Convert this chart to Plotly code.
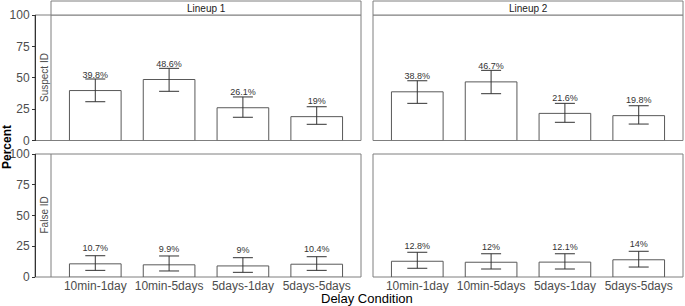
import plotly.graph_objects as go

categories = ["10min-1day", "10min-5days", "5days-1day", "5days-5days"]

# Suspect ID (top row)
lineup1_suspect = [39.8, 48.6, 26.1, 19.0]
lineup1_suspect_hi = [49.0, 57.5, 34.7, 26.9]
lineup1_suspect_lo = [30.9, 39.2, 18.5, 12.9]
lineup2_suspect = [38.8, 46.7, 21.6, 19.8]
lineup2_suspect_hi = [47.6, 55.9, 29.6, 27.7]
lineup2_suspect_lo = [29.6, 37.3, 14.5, 13.1]

# False ID (bottom row)
lineup1_false = [10.7, 9.9, 9.0, 10.4]
lineup1_false_hi = [17.3, 17.1, 15.7, 16.5]
lineup1_false_lo = [5.4, 4.9, 3.8, 5.4]
lineup2_false = [12.8, 12.0, 12.1, 14.0]
lineup2_false_hi = [20.1, 18.9, 18.9, 20.9]
lineup2_false_lo = [7.1, 6.5, 6.5, 8.1]

labels_l1_s = ["39.8%", "48.6%", "26.1%", "19%"]
labels_l2_s = ["38.8%", "46.7%", "21.6%", "19.8%"]
labels_l1_f = ["10.7%", "9.9%", "9%", "10.4%"]
labels_l2_f = ["12.8%", "12%", "12.1%", "14%"]

yticks = [0, 25, 50, 75, 100]

W, H = 685, 306
FONT = "Liberation Sans, Arial, sans-serif"
BORDER = "#7f7f7f"


def px(x):
    return x / W


def py(y):
    return 1 - y / H


fig = go.Figure()

panels = [
    ("x", "y", lineup1_suspect, lineup1_suspect_hi, lineup1_suspect_lo, labels_l1_s),
    ("x2", "y", lineup2_suspect, lineup2_suspect_hi, lineup2_suspect_lo, labels_l2_s),
    ("x", "y2", lineup1_false, lineup1_false_hi, lineup1_false_lo, labels_l1_f),
    ("x2", "y2", lineup2_false, lineup2_false_hi, lineup2_false_lo, labels_l2_f),
]

for xa, ya, vals, hi, lo, labs in panels:
    fig.add_trace(go.Bar(
        x=categories, y=vals, xaxis=xa, yaxis=ya, width=0.7,
        marker=dict(color="white", line=dict(color="#595959", width=1)),
        error_y=dict(type="data", symmetric=False,
                     array=[h - v for h, v in zip(hi, vals)],
                     arrayminus=[v - l for v, l in zip(vals, lo)],
                     color="#333333", thickness=1, width=10),
        showlegend=False, hoverinfo="skip",
    ))
    fig.add_trace(go.Scatter(
        x=categories, y=[v + 12 for v in vals], xaxis=xa, yaxis=ya,
        mode="text", text=labs,
        textfont=dict(size=9, color="#333333", family=FONT),
        showlegend=False, hoverinfo="skip",
    ))

top = (15, 140.5)
bot = (154, 277)

xcommon = dict(type="category", categoryorder="array", categoryarray=categories,
               range=[-0.6, 3.6], showgrid=False, zeroline=False, showline=False,
               ticks="", tickfont=dict(size=12, color="#4d4d4d", family=FONT),
               fixedrange=True, automargin=False)
ycommon = dict(range=[0, 100], tickvals=yticks, showgrid=False, zeroline=False,
               showline=True, linecolor="#333333", linewidth=1,
               ticks="outside", ticklen=3, tickcolor="#333333",
               tickfont=dict(size=12, color="#4d4d4d", family=FONT),
               anchor="free", position=px(35), fixedrange=True, automargin=False)

fig.update_layout(
    width=W, height=H,
    margin=dict(l=0, r=0, t=0, b=0, pad=0, autoexpand=False),
    paper_bgcolor="white", plot_bgcolor="rgba(0,0,0,0)",
    bargap=0,
    xaxis=dict(domain=[px(51), px(361)], anchor="y2", **xcommon),
    xaxis2=dict(domain=[px(373), px(683)], anchor="y2", **xcommon),
    yaxis=dict(domain=[py(top[1]), py(top[0])], **ycommon),
    yaxis2=dict(domain=[py(bot[1]), py(bot[0])], **ycommon),
    font=dict(family=FONT),
)

shapes = []
for (y0, y1) in (top, bot):
    shapes.append(dict(type="rect", xref="paper", yref="paper",
                       x0=px(35), x1=px(361), y0=py(y1), y1=py(y0),
                       line=dict(color=BORDER, width=1), fillcolor="rgba(0,0,0,0)", layer="below"))
    shapes.append(dict(type="line", xref="paper", yref="paper",
                       x0=px(51), x1=px(51), y0=py(y1), y1=py(y0),
                       line=dict(color=BORDER, width=1)))
    shapes.append(dict(type="rect", xref="paper", yref="paper",
                       x0=px(373), x1=px(683), y0=py(y1), y1=py(y0),
                       line=dict(color=BORDER, width=1), fillcolor="rgba(0,0,0,0)", layer="below"))
for x0, x1 in ((51, 361), (373, 683)):
    shapes.append(dict(type="rect", xref="paper", yref="paper",
                       x0=px(x0), x1=px(x1), y0=py(15), y1=py(1),
                       line=dict(color=BORDER, width=1), fillcolor="white"))
fig.update_layout(shapes=shapes)

annotations = []
for text, x in (("Lineup 1", 206), ("Lineup 2", 528)):
    annotations.append(dict(text=text, x=px(x), y=py(8), xref="paper", yref="paper",
                            showarrow=False, font=dict(size=10, color="#1a1a1a", family=FONT),
                            xanchor="center", yanchor="middle"))
annotations.append(dict(text="Suspect ID", x=px(44), y=py(78), xref="paper", yref="paper",
                        showarrow=False, textangle=-90,
                        font=dict(size=10, color="#4d4d4d", family=FONT),
                        xanchor="center", yanchor="middle"))
annotations.append(dict(text="False ID", x=px(44), y=py(215.5), xref="paper", yref="paper",
                        showarrow=False, textangle=-90,
                        font=dict(size=10, color="#4d4d4d", family=FONT),
                        xanchor="center", yanchor="middle"))
annotations.append(dict(text="<b>Percent</b>", x=px(7), y=py(147), xref="paper", yref="paper",
                        showarrow=False, textangle=-90,
                        font=dict(size=12, color="black", family=FONT),
                        xanchor="center", yanchor="middle"))
annotations.append(dict(text="Delay Condition", x=px(367), y=py(298), xref="paper", yref="paper",
                        showarrow=False,
                        font=dict(size=13, color="black", family=FONT),
                        xanchor="center", yanchor="middle"))
fig.update_layout(annotations=annotations)

fig.write_html("out.html",
               config={"displayModeBar": False, "staticPlot": True},
               post_script="document.body.style.margin='0px';document.body.style.overflow='hidden';")
